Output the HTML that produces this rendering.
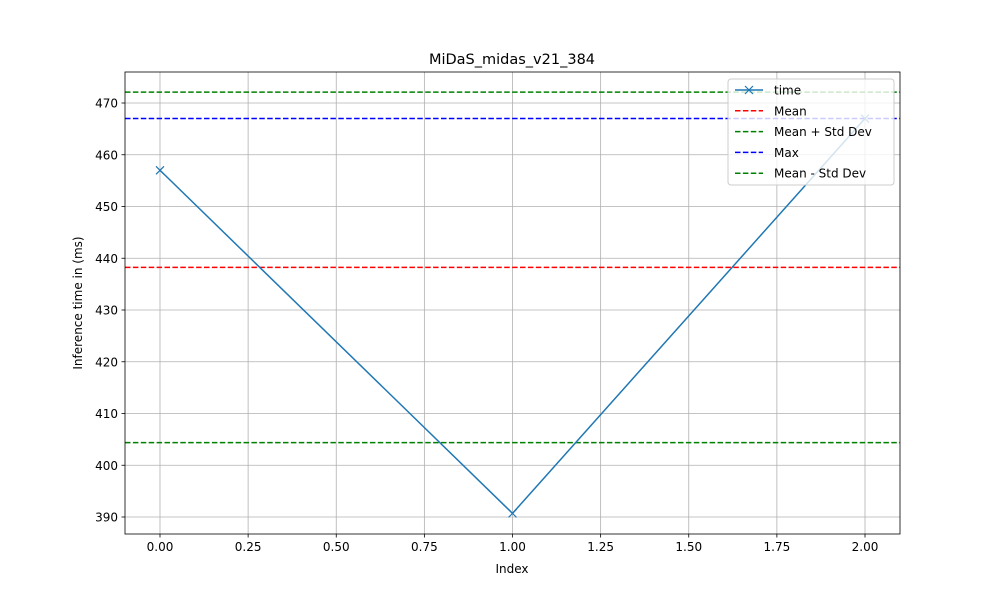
<!DOCTYPE html>
<html><head><meta charset="utf-8"><style>body{margin:0;background:#fff}svg{display:block;font-family:"DejaVu Sans","Liberation Sans",sans-serif}</style></head>
<body>
<svg width="1000" height="600" id="chart">
<rect width="1000" height="600" fill="#fff"/>
</svg>
<script>
const xValues=[0,1,2];
const times=[457,390.7,467];
const xTicks=[0,0.25,0.5,0.75,1.0,1.25,1.5,1.75,2.0];
const yTicks=[390,400,410,420,430,440,450,460,470];
const meanVal=times.reduce((a,b)=>a+b,0)/times.length;
const stdVal=Math.sqrt(times.reduce((a,b)=>a+(b-meanVal)**2,0)/times.length);
const maxVal=Math.max(...times);
const L=125,R=900,T=72,B=534;
const sx=v=>160+(v-0)*(865-160)/2;
const sy=v=>517-(v-390)*(517-103)/80;
const svg=document.getElementById('chart');
const NS='http://www.w3.org/2000/svg';
function mk(tag,attrs,parent){const e=document.createElementNS(NS,tag);for(const k in attrs)e.setAttribute(k,attrs[k]);(parent||svg).appendChild(e);return e;}
const grid=mk('g',{});


xTicks.forEach(t=>{const x=sx(t);
 mk('line',{x1:x,x2:x,y1:T,y2:B,stroke:'#b0b0b0','stroke-width':0.8},grid);
 mk('line',{x1:x,x2:x,y1:B,y2:B+3.5,stroke:'#000','stroke-width':0.8});
 const tx=mk('text',{x:x,y:B+17,'font-size':12,'text-anchor':'middle'});tx.textContent=t.toFixed(2);
 
 
});
yTicks.forEach(t=>{const y=sy(t);
 mk('line',{x1:L,x2:R,y1:y,y2:y,stroke:'#b0b0b0','stroke-width':0.8},grid);
 mk('line',{x1:L-3.5,x2:L,y1:y,y2:y,stroke:'#000','stroke-width':0.8});
 const tx=mk('text',{x:L-7,y:y+4.5,'font-size':12,'text-anchor':'end'});tx.textContent=t;
 
 
});
const hl=[[meanVal,'#ff0000','mean-line'],[meanVal+stdVal,'#008000','mean-plus-std-line'],[maxVal,'#0000ff','max-line'],[meanVal-stdVal,'#008000','mean-minus-std-line']];
hl.forEach(h=>{const l=mk('line',{x1:L,x2:R,y1:sy(h[0]),y2:sy(h[0]),stroke:h[1],'stroke-width':1.5,'stroke-dasharray':'5.5,2.4'});
 
 
});
const pl=mk('polyline',{points:xValues.map((x,i)=>sx(x)+','+sy(times[i])).join(' '),fill:'none',stroke:'#1f77b4','stroke-width':1.5});


xValues.forEach((x,i)=>{const cx=sx(x),cy=sy(times[i]);
 const m=mk('path',{d:`M${cx-4},${cy-4}L${cx+4},${cy+4}M${cx-4},${cy+4}L${cx+4},${cy-4}`,stroke:'#1f77b4','stroke-width':1.2});
 
 
});
const frame=mk('rect',{x:L,y:T,width:R-L,height:B-T,fill:'none',stroke:'#000','stroke-width':0.8});


const title=mk('text',{x:512,y:64,'font-size':14.5,'text-anchor':'middle'});title.textContent='MiDaS_midas_v21_384';


const xl=mk('text',{x:512,y:573,'font-size':12,'text-anchor':'middle'});xl.textContent='Index';


const yl=mk('text',{x:82,y:303,'font-size':12,'text-anchor':'middle',transform:'rotate(-90 82 303)'});yl.textContent='Inference time in (ms)';


const lg=mk('g',{});


mk('rect',{x:728,y:79,width:166,height:106,rx:3,fill:'#fff','fill-opacity':0.8,stroke:'#ccc'},lg);
const entries=[['time','#1f77b4',false],['Mean','#ff0000',true],['Mean + Std Dev','#008000',true],['Max','#0000ff',true],['Mean - Std Dev','#008000',true]];
entries.forEach((e,i)=>{const y=90+i*20.8;
 const g=mk('g',{},lg);
 
 
 mk('line',{x1:735,x2:763,y1:y,y2:y,stroke:e[1],'stroke-width':1.5,'stroke-dasharray':e[2]?'5.5,2.4':'none'},g);
 if(!e[2])mk('path',{d:`M745,${y-4}L753,${y+4}M745,${y+4}L753,${y-4}`,stroke:e[1],'stroke-width':1.2},g);
 const t=mk('text',{x:774,y:y+4.5,'font-size':12},g);t.textContent=e[0];
});
</script>
</body></html>
